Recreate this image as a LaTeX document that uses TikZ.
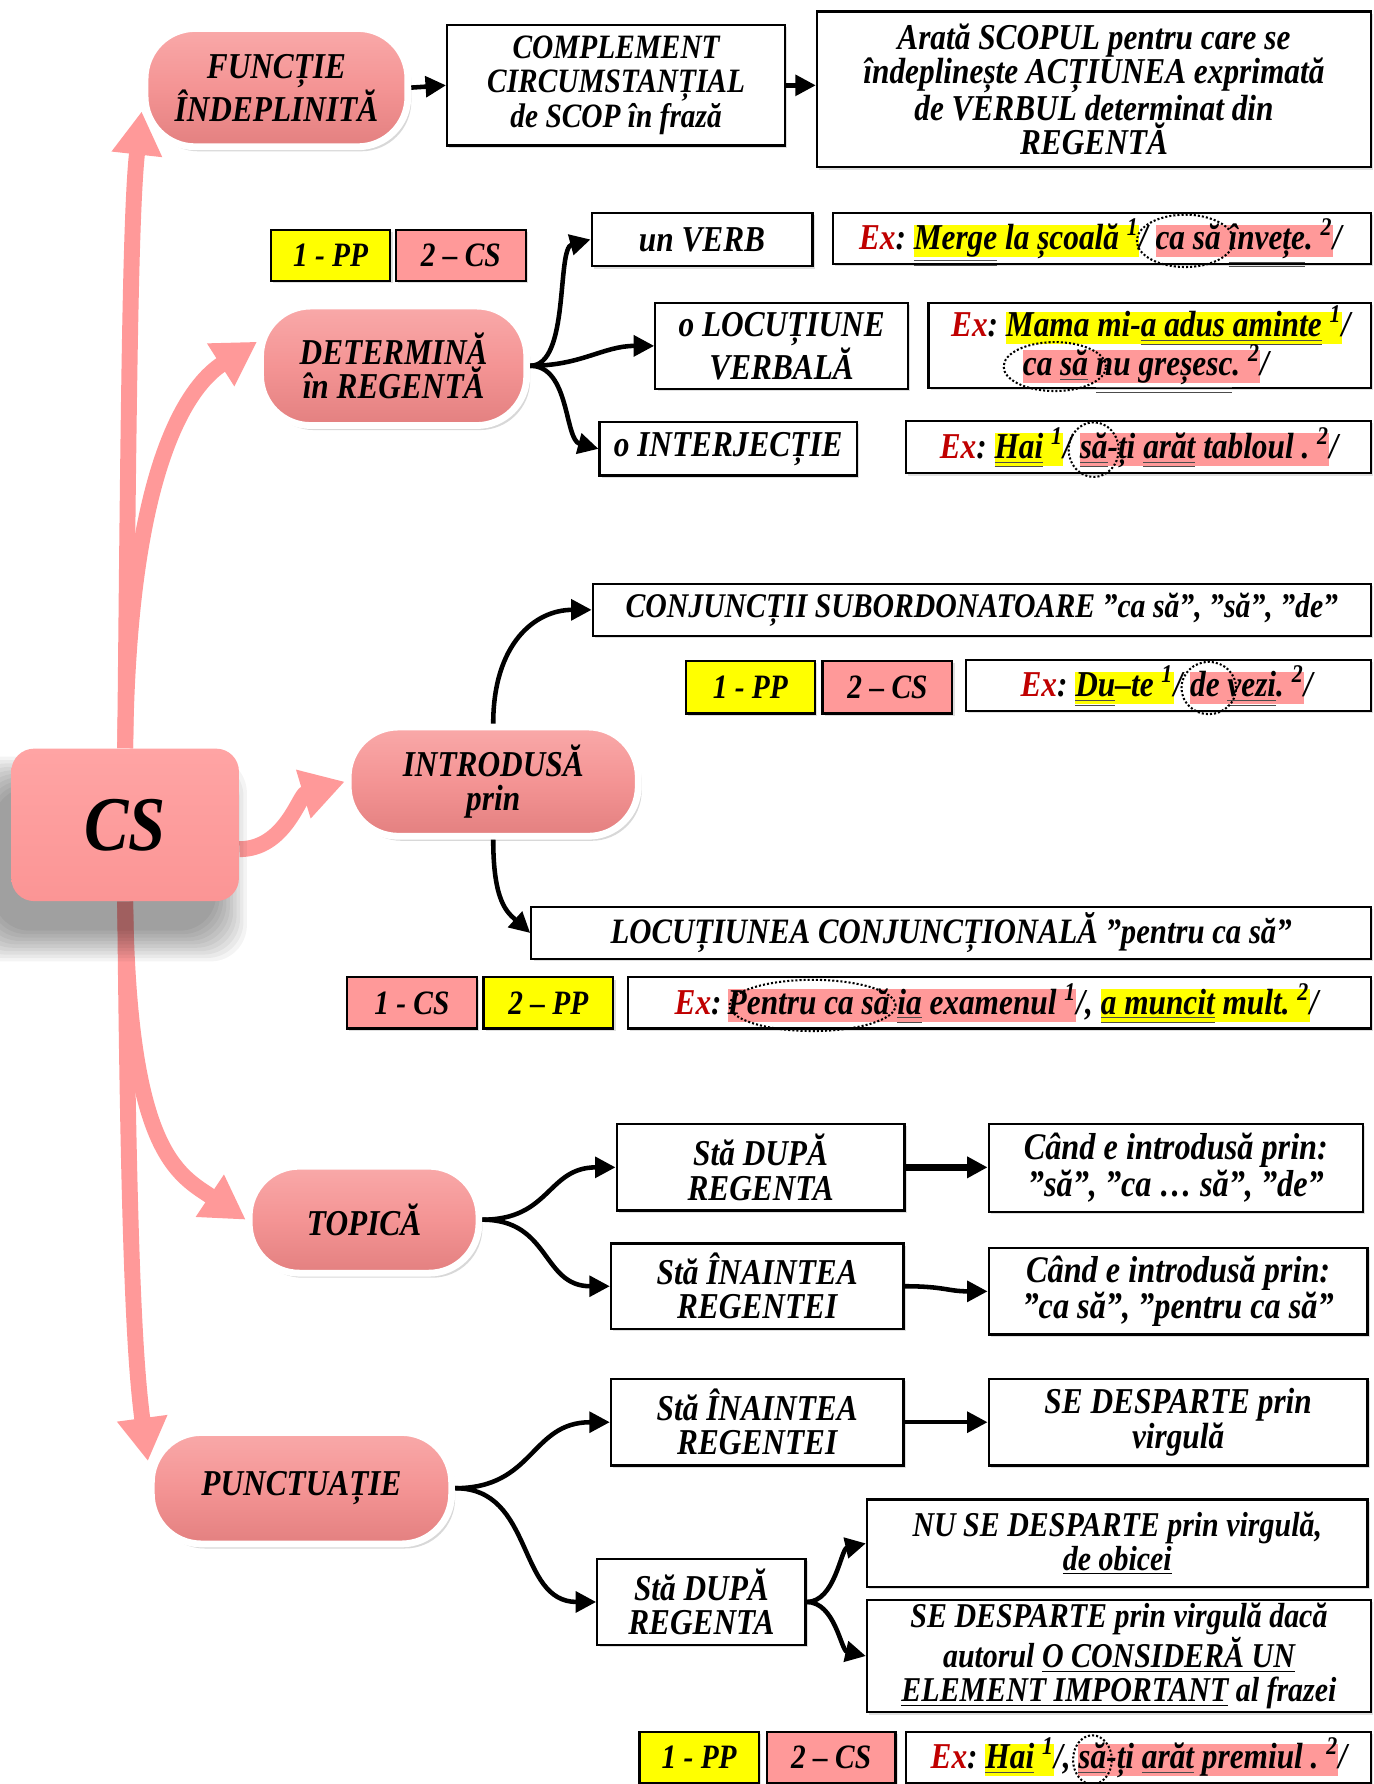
\documentclass[tikz,border=0pt]{standalone}
\usepackage{fontspec}
\usetikzlibrary{arrows.meta,shapes.geometric,shadows,calc}
\newfontfamily\myff[FakeStretch=0.86]{Liberation Serif}
\newcommand\fsz[1]{\fontsize{#1}{15}\selectfont\myff\bfseries\itshape}
\newcommand\myuu[1]{$\color{black!70}\underline{\underline{\hbox{\color{black}#1}}}$}
\newcommand\myul[1]{$\color{black!70}\underline{\hbox{\color{black}#1}}$}
\newcommand\tsp{\ \null}
\pgfdeclarelayer{background}
\pgfsetlayers{background,main}
\definecolor{pkarrow}{HTML}{FF9999}
\definecolor{pkhl}{HTML}{FF9999}
\definecolor{pkTop}{HTML}{F9A9A9}
\definecolor{pkMid}{HTML}{F49494}
\definecolor{pkBot}{HTML}{E38080}
\definecolor{csTop}{HTML}{FFA4A4}
\definecolor{csBot}{HTML}{FB9595}
\definecolor{exred}{HTML}{C00000}
\definecolor{hlyellow}{HTML}{FFFF00}
\begin{document}
\begin{tikzpicture}[x=0.5pt,y=-0.5pt,
  pinknode/.style={rectangle, rounded corners=22pt, draw=white, line width=3pt,
    top color=pkTop, bottom color=pkBot, middle color=pkMid,
    drop shadow={shadow xshift=1.5pt,shadow yshift=-2pt,opacity=.3},
    font=\fsz{16}, align=center, inner sep=0pt, text=black},
  csnode/.style={rectangle, rounded corners=10pt, top color=csTop, bottom color=csBot,
    font=\fontsize{34}{34}\selectfont\myff\bfseries\itshape, inner sep=0pt},
  bx/.style={draw=black, line width=1pt, fill=white, align=center, inner sep=0pt,
    font=\fsz{16}, drop shadow={shadow xshift=1pt,shadow yshift=-1pt,opacity=.25}},
  tagY/.style={bx, fill=hlyellow, font=\fsz{15}},
  tagP/.style={bx, fill=pkhl, font=\fsz{15}},
  ch/.style={inner sep=0pt, outer sep=0pt, anchor=base west, font=\fsz{16}},
  hy/.style={ch, fill=hlyellow, text height=11pt, text depth=3.2pt},
  hp/.style={ch, fill=pkhl, text height=11pt, text depth=3.2pt},
  exr/.style={ch, text=exred},
  ell/.style={ellipse, draw=black, line width=0.9pt, dash pattern=on 0.9pt off 0.9pt, inner sep=0pt},
  barr/.style={draw=black, line width=2pt, -{Triangle[length=9pt,width=9pt]}},
  pinkarr/.style={draw=pkarrow, line width=7pt, -{Triangle[length=19pt,width=21pt]}}
]
\begin{pgfonlayer}{background}
\fill[white] (0,0) rectangle (1207,1568);
\end{pgfonlayer}
\useasboundingbox (0,0) rectangle (1207,1568);

% soft shadow of CS
\foreach \k in {0,...,9}
  \fill[black, opacity=0.045, rounded corners=16pt] (-6-\k*3,692-\k*3) rectangle (190+\k*3,818+\k*3);

% main pink nodes
\node[csnode, minimum width=100pt, minimum height=67pt] (cs) at (110,725) {CS};
\node[pinknode, minimum width=115.5pt, minimum height=52pt] (funct) at (243,77) {FUNCȚIE\\ÎNDEPLINITĂ};
\node[pinknode, minimum width=117pt, minimum height=52.5pt] (det) at (346,321.5) {DETERMINĂ\\în REGENTĂ};
\node[pinknode, minimum width=127.5pt, minimum height=48pt] (intro) at (433.5,687) {INTRODUSĂ\\prin};
\node[pinknode, minimum width=101pt, minimum height=47pt] (topic) at (320,1072) {TOPICĂ};
\node[pinknode, minimum width=132pt, minimum height=49pt] (pun) at (265,1308) {PUNCTUAȚIE};

% row 1
\node[bx, font=\fsz{15}, minimum width=148.5pt, minimum height=53pt] (comp) at (541.5,75) {COMPLEMENT\\CIRCUMSTANȚIAL\\de SCOP în frază};
\node[bx, minimum width=243.5pt, minimum height=68.5pt] (arata) at (961.5,78.5) {Arată SCOPUL pentru care se\\îndeplinește ACȚIUNEA exprimată\\de VERBUL determinat din\\REGENTĂ};

% determina
\node[tagY, minimum width=52.5pt, minimum height=22.5pt] (tA1) at (290.5,224.5) {1 - PP};
\node[tagP, minimum width=57pt, minimum height=22.5pt] (tA2) at (405,224.5) {2 – CS};
\node[bx, minimum width=97pt, minimum height=23.5pt] (verb) at (617,210.5) {un VERB};
\node[bx, minimum width=111pt, minimum height=38pt] (locv) at (687,304) {o LOCUȚIUNE\\VERBALĂ};
\node[bx, minimum width=113pt, minimum height=23.5pt] (interj) at (640,394.5) {o INTERJECȚIE};
\node[bx, minimum width=236.5pt, minimum height=22.5pt] (exA) at (968.5,209.5) {};
\node[bx, minimum width=194.5pt, minimum height=37.5pt] (exB) at (1010.5,303.5) {};
\node[bx, minimum width=204.5pt, minimum height=23pt] (exC) at (1000.5,393) {};

% introdusa
\node[bx, font=\fsz{15.2}, minimum width=342pt, minimum height=23pt] (conj) at (863,536) {CONJUNCȚII SUBORDONATOARE ”ca să”, ”să”, ”de”};
\node[tagY, minimum width=56.5pt, minimum height=23pt] (tB1) at (659.5,604) {1 - PP};
\node[tagP, minimum width=57pt, minimum height=23pt] (tB2) at (780,604) {2 – CS};
\node[bx, minimum width=178pt, minimum height=22.5pt] (exD) at (1027,602.5) {};
\node[bx, font=\fsz{15.7}, minimum width=369pt, minimum height=23pt] (locc) at (836,820) {LOCUȚIUNEA CONJUNCȚIONALĂ ”pentru ca să”};
\node[tagP, minimum width=57pt, minimum height=22.5pt] (tC1) at (362,881.5) {1 - CS};
\node[tagY, minimum width=57pt, minimum height=22.5pt] (tC2) at (482,881.5) {2 – PP};
\node[bx, minimum width=326.5pt, minimum height=22.5pt] (exE) at (878.5,881.5) {};

% topica
\node[bx, minimum width=126.5pt, minimum height=38pt] (sd1) at (668.5,1026) {Stă DUPĂ\\REGENTA};
\node[bx, font=\fsz{16.5}, minimum width=164.5pt, minimum height=38.5pt] (cand1) at (1033.5,1026.5) {Când e introdusă prin:\\”să”, ”ca … să”, ”de”};
\node[bx, minimum width=128.5pt, minimum height=37.5pt] (si1) at (665.5,1130.5) {Stă ÎNAINTEA\\REGENTEI};
\node[bx, font=\fsz{16.5}, minimum width=166.5pt, minimum height=38pt] (cand2) at (1035.5,1135) {Când e introdusă prin:\\”ca să”, ”pentru ca să”};

% punctuatie
\node[bx, minimum width=128.5pt, minimum height=38pt] (si2) at (665.5,1250) {Stă ÎNAINTEA\\REGENTEI};
\node[bx, minimum width=166.5pt, minimum height=38pt] (sedesp) at (1035.5,1250) {SE DESPARTE prin\\virgulă};
\node[bx, minimum width=91.5pt, minimum height=38pt] (sd2) at (616.5,1408) {Stă DUPĂ\\REGENTA};
\node[bx, font=\fsz{15.3}, minimum width=220pt, minimum height=38.5pt] (nusep) at (982,1356.5) {NU SE DESPARTE prin virgulă,\\\underline{de obicei}};
\node[bx, font=\fsz{15.3}, minimum width=221.5pt, minimum height=49.5pt] (sedaca) at (983.5,1455.5) {SE DESPARTE prin virgulă dacă\\autorul \underline{O CONSIDERĂ UN}\\\underline{ELEMENT IMPORTANT} al frazei};
\node[tagY, minimum width=52.5pt, minimum height=22.5pt] (tD1) at (614.5,1544.5) {1 - PP};
\node[tagP, minimum width=56.5pt, minimum height=22.5pt] (tD2) at (730.5,1544.5) {2 – CS};
\node[bx, minimum width=204.5pt, minimum height=22.5pt] (exF) at (1000.5,1544.5) {};

% ---- example texts
% A
\node[exr] (a1) at (755,219.5) {Ex};
\node[ch] (a2) at (a1.base east) {:\tsp};
\node[hy] (a3) at (a2.base east) {\myuu{Merge} la școală\ \textsuperscript{1}};
\node[ch] (a4) at (a3.base east) {/\tsp};
\node[hp] (a5) at (a4.base east) {ca să\tsp};
\node[hp] (a6) at (a5.base east) {\myuu{învețe}.\ \textsuperscript{2}};
\node[ch] (a7) at (a6.base east) {/};
\node[ell, minimum width=42.5pt, minimum height=23pt] (el1) at ($(a5.center)+(-6,0)$) {};
% B
\node[exr] (b1) at (836,296) {Ex};
\node[ch] (b2) at (b1.base east) {:\tsp};
\node[hy] (b3) at (b2.base east) {Mama mi-\myuu{a adus aminte}\ \textsuperscript{1}};
\node[ch] (b4) at (b3.base east) {/};
\node[hp] (b5) at (899,330) {ca \myul{să}\tsp};
\node[hp] (b6) at (b5.base east) {\myuu{nu greșesc}.\ \textsuperscript{2}};
\node[ch] (b7) at (b6.base east) {/};
\node[ell, minimum width=45pt, minimum height=21.5pt] (el2) at ($(b5.center)+(-4,0)$) {};
% C
\node[exr] (c1) at (826,403) {Ex};
\node[ch] (c2) at (c1.base east) {:\tsp};
\node[hy] (c3) at (c2.base east) {\myuu{Hai}\ \textsuperscript{1}};
\node[ch] (c4) at (c3.base east) {/\tsp};
\node[hp] (c5) at (c4.base east) {\myuu{să}};
\node[hp] (c6) at (c5.base east) {-ți \myuu{arăt} tabloul .\ \textsuperscript{2}};
\node[ch] (c7) at (c6.base east) {/};
\node[ell, minimum width=22pt, minimum height=24pt] (el3) at (c5.center) {};
% D
\node[exr] (d1) at (897,612.5) {Ex};
\node[ch] (d2) at (d1.base east) {:\tsp};
\node[hy] (d3) at (d2.base east) {\myuu{Du}–te\ \textsuperscript{1}};
\node[ch] (d4) at (d3.base east) {/\tsp};
\node[hp] (d5) at (d4.base east) {de\tsp};
\node[hp] (d6) at (d5.base east) {\myuu{vezi}.\ \textsuperscript{2}};
\node[ch] (d7) at (d6.base east) {/};
\node[ell, minimum width=24pt, minimum height=23pt] (el4) at (d5.center) {};
% E
\node[exr] (f1) at (593,891.5) {Ex};
\node[ch] (f2) at (f1.base east) {:\,};
\node[hp] (f3) at (f2.base east) {Pentru ca să\tsp};
\node[hp] (f4) at (f3.base east) {\myuu{ia} examenul\ \textsuperscript{1}};
\node[ch] (f5) at (f4.base east) {/,\tsp};
\node[hy] (f6) at (f5.base east) {\myuu{a muncit} mult.\ \textsuperscript{2}};
\node[ch] (f7) at (f6.base east) {/};
\node[ell, minimum width=73pt, minimum height=22.5pt] (el5) at (f3.center) {};
% F
\node[exr] (g1) at (818,1554.5) {Ex};
\node[ch] (g2) at (g1.base east) {:\tsp};
\node[hy] (g3) at (g2.base east) {\myul{Hai}\ \textsuperscript{1}};
\node[ch] (g4) at (g3.base east) {/,\tsp};
\node[hp] (g5) at (g4.base east) {\myul{să}};
\node[hp] (g6) at (g5.base east) {-ți \myul{arăt} premiul .\ \textsuperscript{2}};
\node[ch] (g7) at (g6.base east) {/};
\node[ell, minimum width=17pt, minimum height=21.5pt] (el6) at (g5.center) {};

% ---- black connectors
\draw[barr] (funct.east) -- (comp.west);
\draw[barr] (comp.east) -- (comp.east -| arata.west);
\draw[barr] (det.east) .. controls +(35,0) and +(-30,8) .. (verb.west);
\draw[barr] (det.east) .. controls +(45,0) and +(-45,0) .. (locv.west);
\draw[barr] (det.east) .. controls +(35,0) and +(-30,-8) .. (interj.west);
\draw[barr] (intro.north) .. controls +(0,-70) and +(-50,0) .. (conj.west);
\draw[barr] (intro.south) .. controls +(0,55) and +(-20,-18) .. (locc.west);
\draw[barr] (topic.east) .. controls +(60,0) and +(-60,0) .. (sd1.west);
\draw[barr] (topic.east) .. controls +(60,0) and +(-60,0) .. (si1.west);
\draw[barr, line width=3pt] (sd1.east) -- (sd1.east -| cand1.west);
\draw[barr] (si1.east) .. controls +(35,0) and +(-35,0) .. (cand2.west);
\draw[barr] (pun.east) .. controls +(70,0) and +(-70,0) .. (si2.west);
\draw[barr] (pun.east) .. controls +(70,0) and +(-70,0) .. (sd2.west);
\draw[barr] (si2.east) .. controls +(35,0) and +(-35,0) .. (sedesp.west);
\draw[barr] (sd2.east) .. controls +(25,0) and +(-22,5) .. (nusep.west);
\draw[barr] (sd2.east) .. controls +(25,0) and +(-22,-5) .. (sedaca.west);

% ---- pink connectors
\begin{pgfonlayer}{background}
\draw[pinkarr] (cs.north) .. controls +(3,-300) and +(-10,90) .. (funct.190);
\draw[pinkarr] (cs.north) .. controls +(3,-260) and +(-55,35) .. (det.170);
\draw[pinkarr] (cs.-12) .. controls +(40,0) and +(-40,12) .. (intro.west);
\draw[pinkarr] (cs.south) .. controls +(3,220) and +(-60,-40) .. (topic.west);
\draw[pinkarr] (cs.south) .. controls +(3,300) and +(-12,-90) .. (pun.170);
\end{pgfonlayer}
\end{tikzpicture}
\end{document}
